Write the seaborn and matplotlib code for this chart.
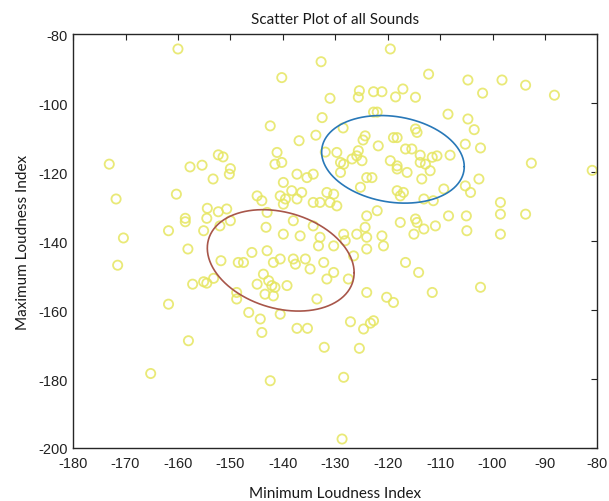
import numpy as np
import pandas as pd
import matplotlib
matplotlib.use("Agg")
import matplotlib.pyplot as plt
import seaborn as sns

min_loudness = [
    -160.0, -173.1, -155.4, -152.3, -151.4, -150.0, -157.7, -119.5, -132.7, -140.2,
    -125.4, -125.6, -122.7, -121.1, -117.1, -118.5, -131.0, -122.7, -122.0, -132.5,
    -142.4, -128.5, -133.7, -136.9, -124.3, -124.7, -118.9, -118.2, -121.8, -141.1,
    -129.7, -125.6, -125.9, -126.8, -124.9, -140.2, -141.5, -129.0, -128.4, -131.9,
    -116.6, -119.5, -118.2, -112.2, -104.7, -98.2, -93.7, -88.2, -114.7, -101.9,
    -108.5, -104.7, -103.5, -114.7, -114.4, -105.2, -102.3, -115.4, -113.8, -111.5,
    -110.6, -108.1, -113.8, -112.8, -92.6, -81.0, -153.3, -150.2, -171.8, -160.3,
    -158.6, -158.6, -154.4, -152.3, -150.7, -154.5, -152.0, -150.0, -161.8, -155.1,
    -170.4, -158.1, -151.8, -148.5, -171.5, -157.2, -155.1, -154.5, -153.2, -161.8,
    -148.8, -158.0, -165.2, -137.3, -135.4, -134.2, -139.9, -129.0, -124.0, -123.0,
    -118.2, -116.3, -144.9, -144.0, -140.5, -139.5, -139.9, -138.3, -137.3, -136.4,
    -134.2, -132.9, -131.0, -131.6, -130.3, -129.7, -125.2, -118.2, -117.0, -117.6,
    -143.0, -138.0, -143.2, -139.9, -136.7, -134.2, -132.9, -133.2, -128.4, -128.1,
    -125.9, -124.0, -124.3, -124.0, -122.0, -121.1, -120.8, -117.6, -124.0, -130.3,
    -147.5, -145.9, -143.0, -141.8, -140.5, -138.0, -137.6, -135.7, -134.8, -132.2,
    -130.3, -127.5, -126.5, -143.7, -142.7, -144.9, -142.1, -141.5, -139.2, -143.4,
    -141.8, -131.6, -133.5, -148.8, -124.0, -120.2, -118.9, -116.6, -113.5, -111.9,
    -102.6, -105.2, -104.2, -109.3, -113.1, -111.3, -98.5, -98.5, -93.7, -105.0,
    -108.4, -114.7, -114.4, -113.1, -110.9, -115.0, -104.9, -98.5, -114.1, -111.5,
    -102.3, -146.5, -144.3, -144.0, -140.5, -137.3, -135.3, -127.1, -124.6, -123.3,
    -122.7, -132.1, -125.4, -142.4, -128.4, -128.7,
]
max_loudness = [
    -84.3, -117.7, -118.0, -115.0, -115.6, -119.0, -118.5, -84.3, -88.0, -92.6,
    -96.4, -98.3, -96.7, -96.7, -95.9, -98.2, -98.6, -102.6, -102.6, -104.2,
    -106.6, -107.2, -109.3, -110.9, -109.5, -110.7, -110.0, -110.0, -112.4, -114.3,
    -114.3, -113.8, -115.3, -116.2, -116.7, -117.2, -117.7, -117.2, -117.7, -114.2,
    -113.3, -116.7, -118.2, -91.6, -93.3, -93.3, -94.8, -97.7, -98.3, -97.1,
    -103.2, -104.6, -107.7, -107.5, -108.5, -111.9, -113.0, -113.3, -115.1, -115.7,
    -115.3, -115.1, -117.2, -117.7, -117.4, -119.5, -122.0, -120.6, -127.8, -126.4,
    -133.4, -134.4, -130.5, -131.5, -130.7, -133.4, -135.6, -134.1, -137.0, -137.0,
    -139.1, -142.3, -145.7, -146.2, -147.0, -152.5, -151.8, -152.2, -150.8, -158.3,
    -156.8, -168.9, -178.4, -120.6, -121.6, -120.6, -123.0, -120.1, -121.6, -121.6,
    -119.1, -120.1, -126.9, -128.3, -126.9, -127.8, -129.3, -125.4, -127.8, -125.9,
    -128.8, -128.8, -128.8, -125.9, -126.4, -129.8, -124.4, -125.4, -125.9, -126.9,
    -131.7, -134.1, -136.0, -138.0, -138.5, -135.6, -138.9, -141.4, -138.0, -139.9,
    -138.0, -132.7, -136.0, -138.9, -131.2, -138.5, -141.4, -134.6, -142.3, -141.4,
    -146.2, -143.3, -142.8, -146.2, -145.2, -145.2, -146.7, -145.2, -148.1, -146.2,
    -149.1, -151.0, -144.3, -149.6, -151.5, -152.5, -152.9, -153.4, -152.9, -155.4,
    -155.9, -151.0, -156.8, -154.9, -154.9, -156.3, -157.8, -146.2, -122.0, -119.6,
    -122.0, -124.0, -125.9, -124.9, -127.8, -128.3, -128.8, -132.2, -132.2, -132.7,
    -132.7, -133.6, -134.6, -136.5, -135.6, -138.0, -137.0, -138.0, -149.1, -154.9,
    -153.4, -160.7, -162.6, -166.5, -161.2, -165.3, -165.3, -163.4, -165.5, -163.8,
    -163.1, -170.8, -171.1, -180.5, -179.5, -197.4,
]

# cluster ellipses: centre, std x, std y, covariance
ellipse_centres = [(-119.0, -116.3), (-140.4, -145.6)]
ellipse_sx = [13.6, 14.0]
ellipse_sy = [12.7, 14.7]
ellipse_cov = [-29.0, -50.0]
ellipse_colors = ["#2878b8", "#a8564a"]

x_ticks = list(range(-180, -79, 10))
y_ticks = list(range(-200, -79, 20))

df = pd.DataFrame({"Minimum Loudness Index": min_loudness,
                   "Maximum Loudness Index": max_loudness})

sns.set_style("white")
plt.rcParams["font.family"] = ["Liberation Sans", "DejaVu Sans"]
plt.rcParams["axes.unicode_minus"] = False

fig = plt.figure(figsize=(6.09, 5.02), dpi=100)
ax = fig.add_axes([0.12, 0.1056, 0.861, 0.8244])

sns.scatterplot(data=df, x="Minimum Loudness Index", y="Maximum Loudness Index",
                marker="o", s=44, facecolors="none", edgecolor="#e6e660",
                linewidth=1.3, alpha=0.85, ax=ax)

t = np.linspace(0, 2 * np.pi, 300)
for (cx, cy), sx, sy, cxy, col in zip(ellipse_centres, ellipse_sx, ellipse_sy,
                                      ellipse_cov, ellipse_colors):
    l11 = sx
    l21 = cxy / sx
    l22 = np.sqrt(sy ** 2 - l21 ** 2)
    ex = cx + l11 * np.cos(t)
    ey = cy + l21 * np.cos(t) + l22 * np.sin(t)
    ax.plot(ex, ey, color=col, lw=1.2)

ax.set_xlim(-180, -80)
ax.set_ylim(-200, -80)
ax.set_xticks(x_ticks)
ax.set_yticks(y_ticks)
ax.tick_params(direction="in", length=4, width=0.8, top=True, right=True,
               labeltop=False, labelright=False, labelsize=10.5,
               colors="#222222")
ax.tick_params(axis="x", pad=6)
ax.tick_params(axis="y", pad=4)
for s in ax.spines.values():
    s.set_color("#262626")
    s.set_linewidth(1.0)

lab_font = dict(family=["Lato", "DejaVu Sans"], size=11, color="#1a1a1a")
ax.set_xlabel("Minimum Loudness Index", labelpad=11, **lab_font)
ax.set_ylabel("Maximum Loudness Index", labelpad=6, **lab_font)
ax.set_title("Scatter Plot of all Sounds", pad=8,
             family=["Lato", "DejaVu Sans"], size=11, color="#1a1a1a")

fig.savefig("out.png", dpi=100)
